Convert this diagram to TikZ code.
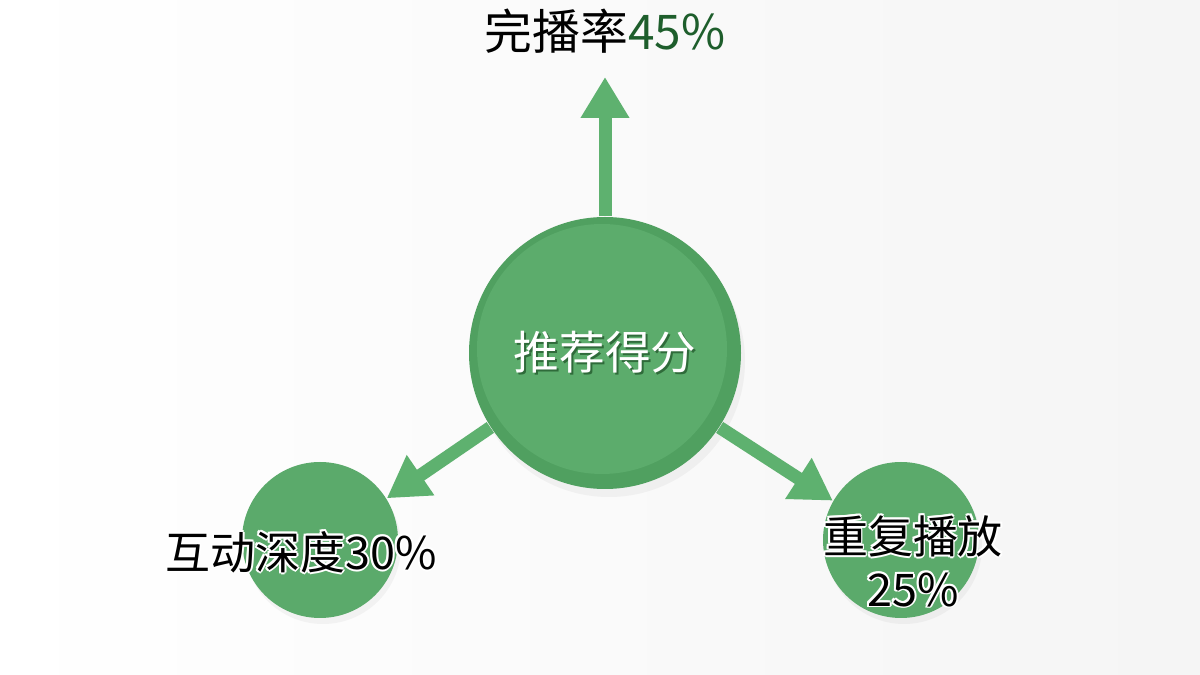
\documentclass[tikz,border=0pt]{standalone}
\usepackage{fontspec}
\setmainfont{Noto Sans CJK SC}
\usetikzlibrary{arrows.meta,shadows}

\definecolor{ringgreen}{HTML}{50A060}
\definecolor{coregreen}{HTML}{5CAC6C}
\definecolor{leafgreen}{HTML}{5BAA6B}
\definecolor{arrowgreen}{HTML}{5EB16F}
\definecolor{numgreen}{HTML}{1E5E2C}
\definecolor{hubshade}{HTML}{2F6B3A}

% black text with a thin white halo
\newcommand\halo[1]{\begingroup
  \def\h##1##2{\makebox[0pt][l]{\raisebox{##2}{\hspace*{##1}\textcolor{white}{#1}}}}%
  \h{-.55pt}{0pt}\h{.55pt}{0pt}\h{0pt}{.55pt}\h{0pt}{-.55pt}%
  \h{-.4pt}{.4pt}\h{.4pt}{.4pt}\h{-.4pt}{-.4pt}\h{.4pt}{-.4pt}#1\endgroup}
% white text with a dark offset shadow
\newcommand\shadowed[1]{\makebox[0pt][l]{\raisebox{-.6pt}{\hspace*{.6pt}\textcolor{hubshade}{#1}}}#1}

\tikzset{
  hub/.style={circle,minimum size=2.72cm,inner sep=0pt,fill=ringgreen,
    drop shadow={shadow xshift=.04,shadow yshift=-.08,opacity=.08},
    path picture={\fill[coregreen] ([xshift=-.3mm,yshift=.4mm]path picture bounding box.center) circle (1.25);}},
  leaf/.style={circle,minimum size=1.56cm,inner sep=0pt,fill=leafgreen,
    drop shadow={shadow xshift=.03,shadow yshift=-.06,opacity=.08}},
  flow/.style={draw=arrowgreen,line width=1.3mm,-{Triangle[width=4.6mm,length=4.1mm]}},
  label/.style={font=\fontsize{12.8}{15}\selectfont,text=black}
}

\begin{document}
\begin{tikzpicture}
  \shade[left color=white,right color=black!4] (0,0) rectangle (12,6.75);
  \useasboundingbox (0,0) rectangle (12,6.75);

  \node[hub]  (score) at (6.05,3.22) {};
  \node[leaf] (interact) at (3.20,1.35) {};
  \node[leaf] (replay)   at (9.01,1.35) {};

  \coordinate (uptip) at (6.05,5.98);
  \draw[flow] (score.north) -- (uptip);
  \draw[flow] (score.213) -- (interact.32);
  \draw[flow] (score.-33) -- (replay.150);

  % texts
  \node[font=\fontsize{13}{15}\selectfont,text=white] (scoretxt) at (6.05,3.22) {\shadowed{推荐得分}};
  \node[label,font=\fontsize{13.6}{16}\selectfont] (finish) at (6.05,6.44) {完播率\textcolor{numgreen}{45\%}};
  \node[label] (interacttxt) at (3.01,1.23) {\halo{互动深度30\%}};
  \node[label,align=center] (replaytxt) at (9.13,1.14) {\halo{重复播放}\\\halo{25\%}};
\end{tikzpicture}
\end{document}
